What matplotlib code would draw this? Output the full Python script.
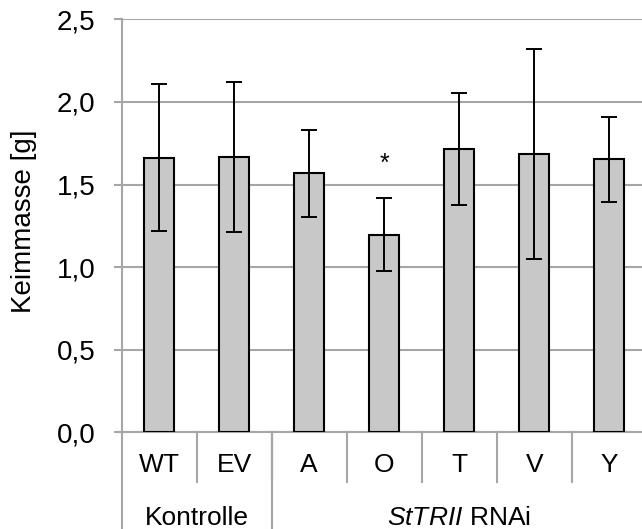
import numpy as np
import matplotlib
matplotlib.use("Agg")
import matplotlib.pyplot as plt
from matplotlib.lines import Line2D

categories = ["WT", "EV", "A", "O", "T", "V", "Y"]
values = [1.663, 1.667, 1.567, 1.196, 1.714, 1.684, 1.653]
errors = [0.445, 0.456, 0.263, 0.220, 0.340, 0.634, 0.258]
groups = [("Kontrolle", 0, 2), (r"$\mathit{StTRII}$ RNAi", 2, 7)]
yticks = [0.0, 0.5, 1.0, 1.5, 2.0, 2.5]
ytick_labels = ["0,0", "0,5", "1,0", "1,5", "2,0", "2,5"]
star_idx = 3
star_y = 1.625

plt.rcParams.update({
    "font.family": "Liberation Sans",
    "font.size": 19,
    "mathtext.fontset": "custom",
    "mathtext.rm": "Liberation Sans",
    "mathtext.it": "Liberation Sans:italic",
})

grid_col = "#a6a6a6"

fig = plt.figure(figsize=(6.42, 5.29), dpi=100)
ax = fig.add_axes([0.1896, 0.1826, 0.8178, 0.7809])

x = np.arange(len(categories))
ax.bar(x, values, width=0.4, color="#c8c8c8", edgecolor="black", linewidth=1.5, zorder=3)
ax.errorbar(x, values, yerr=errors, fmt="none", ecolor="black", elinewidth=1.4,
            capsize=5.8, capthick=1.4, zorder=4)
ax.text(star_idx, star_y, "*", ha="center", va="center", fontsize=18, zorder=5)

ax.set_xlim(-0.5, len(categories) - 0.5)
ax.set_ylim(0, 2.5)
ax.set_yticks(yticks)
ax.set_yticklabels(ytick_labels, fontsize=20)
ax.yaxis.grid(True, color=grid_col, linewidth=1.5, zorder=0)
ax.set_xticks([])
ax.tick_params(axis="y", length=6, width=1.5, color=grid_col, pad=13)
for side in ["top", "right"]:
    ax.spines[side].set_visible(False)
for side in ["left", "bottom"]:
    ax.spines[side].set_color(grid_col)
    ax.spines[side].set_linewidth(1.5)

trans = ax.get_xaxis_transform()
# category labels and short dividers
for i, c in enumerate(categories):
    ax.text(i, -0.079, c, transform=trans, ha="center", va="center")
for i in range(1, len(categories)):
    ax.add_line(Line2D([i - 0.5, i - 0.5], [0, -0.12], transform=trans,
                       color=grid_col, linewidth=1.5, clip_on=False))
# group labels and long dividers
for name, start, end in groups:
    ax.text((start + end - 1) / 2, -0.207, name, transform=trans, ha="center", va="center")
    for b in (start - 0.5, end - 0.5):
        ax.add_line(Line2D([b, b], [0, -0.3], transform=trans,
                           color=grid_col, linewidth=1.5, clip_on=False))

fig.text(24 / 642, 1 - 221 / 529, "Keimmasse [g]", rotation=90, ha="center", va="center",
         fontsize=20)

fig.savefig("out.png", dpi=100)
